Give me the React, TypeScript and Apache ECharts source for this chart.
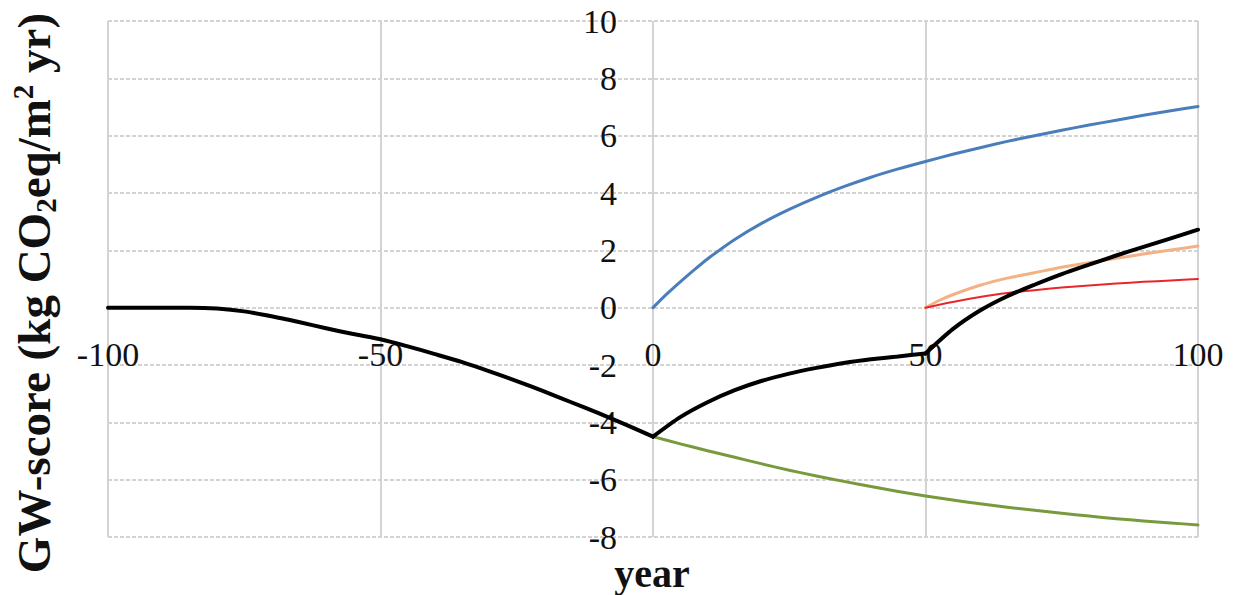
import React, { useEffect, useRef } from "react";
import * as echarts from "echarts";

// Time axis (years) and GW-score values per curve
const blackYears = [-100, -95, -90, -85, -80, -75, -70, -65, -60, -55, -50, -45, -40, -35, -30, -25, -20, -15, -10, -5, 0, 5, 10, 15, 20, 25, 30, 35, 40, 45, 50, 55, 60, 65, 70, 75, 80, 85, 90, 95, 100];
const blackValues = [0, 0, 0, 0, -0.03, -0.13, -0.3, -0.5, -0.72, -0.92, -1.1, -1.35, -1.62, -1.9, -2.22, -2.56, -2.92, -3.3, -3.68, -4.08, -4.5, -3.82, -3.3, -2.88, -2.55, -2.3, -2.1, -1.93, -1.8, -1.7, -1.6, -0.75, -0.1, 0.4, 0.8, 1.17, 1.5, 1.82, 2.12, 2.42, 2.72];
// years where the black curve changes direction abruptly
const blackBreaks = [0, 50];

const blueYears = [0, 2.5, 5, 7.5, 10, 15, 20, 25, 30, 35, 40, 45, 50, 55, 60, 65, 70, 75, 80, 85, 90, 95, 100];
const blueValues = [0, 0.47, 0.9, 1.31, 1.7, 2.38, 2.95, 3.43, 3.85, 4.22, 4.55, 4.84, 5.1, 5.35, 5.58, 5.8, 6.0, 6.19, 6.37, 6.54, 6.71, 6.87, 7.02];

const greenYears = [0, 5, 10, 15, 20, 25, 30, 35, 40, 45, 50, 55, 60, 65, 70, 75, 80, 85, 90, 95, 100];
const greenValues = [-4.5, -4.75, -4.99, -5.22, -5.45, -5.67, -5.87, -6.06, -6.24, -6.41, -6.57, -6.71, -6.84, -6.96, -7.07, -7.17, -7.27, -7.36, -7.44, -7.51, -7.58];

const orangeYears = [50, 52.5, 55, 60, 65, 70, 75, 80, 85, 90, 95, 100];
const orangeValues = [0, 0.25, 0.45, 0.78, 1.03, 1.22, 1.41, 1.57, 1.72, 1.87, 2.01, 2.15];

const redYears = [50, 55, 60, 65, 70, 75, 80, 85, 90, 95, 100];
const redValues = [0, 0.2, 0.37, 0.51, 0.61, 0.7, 0.77, 0.84, 0.9, 0.95, 1.0];

const xTicks = { min: -100, max: 100, step: 50 };
const yTicks = { min: -8, max: 10, step: 2 };

const pairs = (xs: number[], ys: number[]) => xs.map((x, i) => [x, ys[i]]);

const FONT = "'Liberation Serif', 'Times New Roman', serif";
const GRID_COLOR = "#d3d3d3";

const GRID = { left: 108, right: 36, top: 21, bottom: 58 };
const WIDTH = 1234;
const HEIGHT = 595;

export default function App() {
  const ref = useRef<HTMLDivElement>(null);

  useEffect(() => {
    if (!ref.current) return;
    const chart = echarts.init(ref.current, undefined, { renderer: "svg" });

    // axes cross at zero: shift each axis from the plot edge to the other axis' zero
    const plotW = WIDTH - GRID.left - GRID.right;
    const plotH = HEIGHT - GRID.top - GRID.bottom;
    const xZeroOffset = -plotW * (0 - xTicks.min) / (xTicks.max - xTicks.min);
    const yZeroOffset = -plotH * (0 - yTicks.min) / (yTicks.max - yTicks.min);

    const line = (name: string, data: number[][], color: string, width: number, z: number) => ({
      name,
      type: "line",
      data,
      showSymbol: false,
      symbol: "none",
      smooth: 0.25,
      z,
      lineStyle: { color, width, cap: "round", join: "round" },
    });

    // black curve split at its breakpoints so each piece can be smoothed separately
    const blackPoints = pairs(blackYears, blackValues);
    const cuts = [xTicks.min, ...blackBreaks, xTicks.max];
    const blackPieces = cuts.slice(0, -1).map((start, i) =>
      blackPoints.filter((p) => p[0] >= start && p[0] <= cuts[i + 1])
    );

    chart.setOption({
      animation: false,
      backgroundColor: "#ffffff",
      grid: { ...GRID, containLabel: false },
      xAxis: {
        type: "value",
        min: xTicks.min,
        max: xTicks.max,
        interval: xTicks.step,
        position: "bottom",
        offset: yZeroOffset,
        axisLine: { show: false, onZero: false },
        axisTick: { show: false },
        axisLabel: { color: "#111", fontFamily: FONT, fontSize: 34, margin: 30 },
        splitLine: { show: true, lineStyle: { color: GRID_COLOR, width: 2, type: "solid" } },
      },
      yAxis: {
        type: "value",
        min: yTicks.min,
        max: yTicks.max,
        interval: yTicks.step,
        position: "left",
        offset: xZeroOffset,
        axisLine: { show: false, onZero: false },
        axisTick: { show: false },
        axisLabel: { color: "#111", fontFamily: FONT, fontSize: 34, margin: 36 },
        splitLine: { show: true, lineStyle: { color: GRID_COLOR, width: 2, type: [4, 2] } },
      },
      graphic: [
        {
          type: "text",
          x: 34,
          y: 293,
          rotation: Math.PI / 2,
          style: {
            text: "{a|GW-score (kg CO}{b|2}{a|eq/m}{c|2}{a| yr)}",
            align: "center",
            verticalAlign: "middle",
            fill: "#111",
            rich: {
              a: { fontFamily: FONT, fontWeight: "bold", fontSize: 47, lineHeight: 52, fill: "#111" },
              b: { fontFamily: FONT, fontWeight: "bold", fontSize: 29, lineHeight: 29, verticalAlign: "bottom", fill: "#111" },
              c: { fontFamily: FONT, fontWeight: "bold", fontSize: 29, lineHeight: 29, verticalAlign: "top", fill: "#111" },
            },
          },
        },
        {
          type: "text",
          x: 652,
          y: 573,
          style: {
            text: "year",
            align: "center",
            verticalAlign: "middle",
            fontFamily: FONT,
            fontWeight: "bold",
            fontSize: 40,
            fill: "#111",
          },
        },
      ],
      series: [
        line("green", pairs(greenYears, greenValues), "#789a3c", 3, 2),
        line("blue", pairs(blueYears, blueValues), "#4a7ebb", 3, 2),
        line("orange", pairs(orangeYears, orangeValues), "#f4b183", 3, 2),
        line("red", pairs(redYears, redValues), "#e8262c", 2, 3),
        ...blackPieces.map((piece, i) => line("black-" + i, piece, "#000000", 4, 4)),
      ],
    });

    return () => chart.dispose();
  }, []);

  return (
    <div
      ref={ref}
      style={{ position: "fixed", left: 0, top: 0, width: WIDTH, height: HEIGHT }}
    />
  );
}
